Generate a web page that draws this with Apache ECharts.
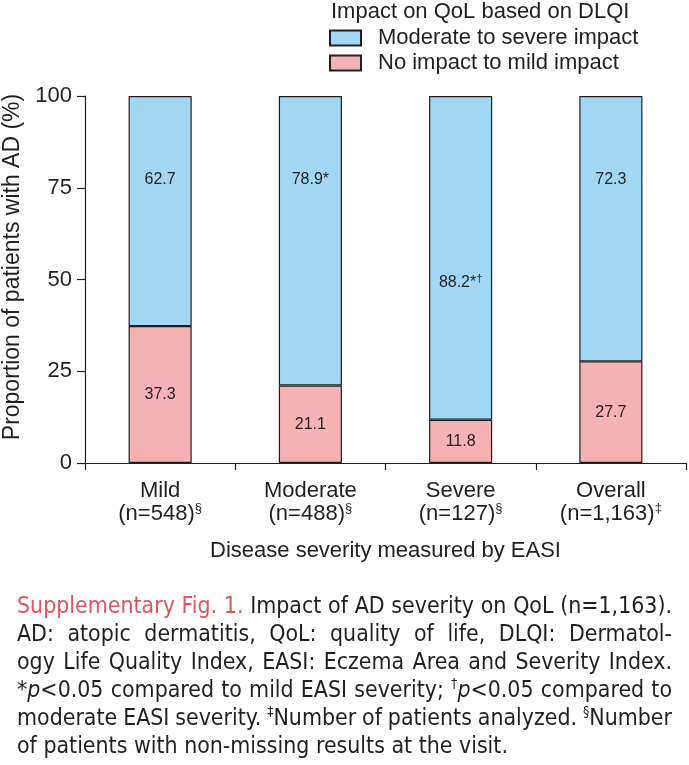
<!DOCTYPE html>
<html><head><meta charset="utf-8">
<script src="https://cdn.jsdelivr.net/npm/echarts@6/dist/echarts.min.js"></script>
<style>html,body{margin:0;padding:0;background:#fff}#c{width:689px;height:765px}</style>
</head><body><div id="c"></div>
<script>
// ---- data ----
const categories = ['Mild', 'Moderate', 'Severe', 'Overall'];
const sampleSizes = ['(n=548)', '(n=488)', '(n=127)', '(n=1,163)'];
const sampleMarks = ['§', '§', '§', '‡'];
const noToMildImpact = [37.3, 21.1, 11.8, 27.7];
const moderateToSevereImpact = [62.7, 78.9, 88.2, 72.3];
const starMarks = ['', '*', '*', ''];
const daggerMarks = ['', '', '†', ''];
const yTicks = [0, 25, 50, 75, 100];
const seriesNames = ['Moderate to severe impact', 'No impact to mild impact'];
const legendTitle = 'Impact on QoL based on DLQI';
const yAxisTitle = 'Proportion of patients with AD (%)';
const xAxisTitle = 'Disease severity measured by EASI';
const captionLines = [
  '{r|Supplementary} {r|Fig.} {r|1.} Impact of AD severity on QoL (n=1,163).',
  'AD: atopic dermatitis, QoL: quality of life, DLQI: Dermatol-',
  'ogy Life Quality Index, EASI: Eczema Area and Severity Index.',
  '*{i|p}<0.05 compared to mild EASI severity; {u|†}{i|p}<0.05 compared to',
  'moderate EASI severity. {u|‡}Number of patients analyzed. {u|§}Number',
  'of patients with non-missing results at the visit.'
];

// ---- style ----
const INK = '#231f20';
const BLUE = '#a1d7f4';
const PINK = '#f4b2b4';
const RED = '#e0555f';
const FONT = "'Liberation Sans', Arial, sans-serif";

// blue label vertical shifts (style only)
const blueLabelShift = [-31, -61, 25, -49];

const chart = echarts.init(document.getElementById('c'), null, {renderer: 'canvas'});

// caption font detection
const mctx = document.createElement('canvas').getContext('2d');
function avail(f) {
  const s = 'abcdefghijklmnopqrstuvwxyz ABCDEFGHIJ 0123456789';
  mctx.font = '40px monospace'; const a = mctx.measureText(s).width;
  mctx.font = `40px '${f}', monospace`; const b = mctx.measureText(s).width;
  mctx.font = '40px serif'; const c = mctx.measureText(s).width;
  mctx.font = `40px '${f}', serif`; const d = mctx.measureText(s).width;
  return a !== b || c !== d;
}
const capCands = ['Liberation Sans Narrow', 'DejaVu Sans Condensed', 'Lato', 'Liberation Sans'];
let capFamily = 'Liberation Sans';
for (const f of capCands) { if (avail(f)) { capFamily = f; break; } }
let capSize = 30;

function segs(word) {
  const out = []; const re = /\{(\w+)\|([^}]*)\}|([^{]+)/g; let m;
  while ((m = re.exec(word))) { if (m[3] !== undefined) out.push({t: m[3], s: ''}); else out.push({t: m[2], s: m[1]}); }
  return out;
}
function fontFor(s, size) {
  const fam = `'${capFamily}'`;
  if (s === 'i') return `italic ${size}px ${fam}`;
  if (s === 'u') return `${Math.round(size * 0.6)}px ${fam}`;
  return `${size}px ${fam}`;
}
function wordWidth(w, size) {
  let t = 0; for (const g of segs(w)) { mctx.font = fontFor(g.s, size); t += mctx.measureText(g.t).width; } return t;
}
const X0 = 17, X1 = 672, Y0 = 607, LH = 28;
// fit size so the widest justified line fits with normal spaces
let maxNat = 0;
for (let i = 0; i < captionLines.length - 1; i++) {
  const ws = captionLines[i].split(' ');
  mctx.font = fontFor('', capSize);
  const sp = mctx.measureText(' ').width;
  const nat = ws.reduce((a, w) => a + wordWidth(w, capSize), 0) + sp * 0.9 * (ws.length - 1);
  maxNat = Math.max(maxNat, nat);
}
capSize = Math.min(26, Math.floor(capSize * (X1 - X0) / maxNat * 10) / 10);

const capRich = {
  r: {fill: RED, fontSize: capSize, fontFamily: capFamily, lineHeight: capSize * 1.2},
  i: {fontStyle: 'italic', fontSize: capSize, fontFamily: capFamily, fill: INK, lineHeight: capSize * 1.2},
  u: {fontSize: Math.round(capSize * 0.6), fontFamily: capFamily, fill: INK, verticalAlign: 'top', lineHeight: capSize * 0.75}
};
const captionGraphics = [];
captionLines.forEach((line, li) => {
  const ws = line.split(' ');
  const widths = ws.map(w => wordWidth(w, capSize));
  mctx.font = fontFor('', capSize);
  let gap = mctx.measureText(' ').width;
  if (li < captionLines.length - 1) gap = (X1 - X0 - widths.reduce((a, b) => a + b, 0)) / (ws.length - 1);
  let x = X0;
  ws.forEach((w, wi) => {
    captionGraphics.push({
      type: 'text', x: x, y: Y0 + li * LH,
      style: {text: w, rich: capRich, fill: INK, fontSize: capSize, fontFamily: capFamily, lineHeight: capSize * 1.2,
        align: 'left', verticalAlign: 'middle'}
    });
    x += widths[wi] + gap;
  });
});

const option = {
  animation: false,
  backgroundColor: '#fff',
  textStyle: {fontFamily: FONT, color: INK},
  title: {
    text: legendTitle, left: 331, top: 1, padding: 0,
    textStyle: {fontSize: 22, fontWeight: 'normal', color: INK, fontFamily: FONT}
  },
  legend: {
    orient: 'vertical', left: 329, top: 27, padding: 0, itemWidth: 31, itemHeight: 15, itemGap: 3,
    icon: 'rect',
    data: seriesNames, selectedMode: false,
    textStyle: {fontSize: 22, color: INK, fontFamily: FONT, padding: [0, 0, 0, 12]}
  },
  grid: {left: 85, right: 3, top: 96, bottom: 302, containLabel: false, outerBoundsMode: 'none'},
  xAxis: {
    type: 'category', data: categories,
    axisLine: {show: true, lineStyle: {color: INK, width: 1.2}},
    axisTick: {show: true, length: 7, lineStyle: {color: INK, width: 1.2}},
    axisLabel: {
      margin: 16, interval: 0,
      formatter: (v, i) => `{a|${v}}\n{a|${sampleSizes[i]}}{s|${sampleMarks[i]}}`,
      rich: {
        a: {fontSize: 22, lineHeight: 23, color: INK, fontFamily: FONT},
        s: {fontSize: 13, lineHeight: 14, verticalAlign: 'top', color: INK, fontFamily: FONT}
      }
    },
    name: xAxisTitle, nameLocation: 'middle', nameGap: 77,
    nameTextStyle: {fontSize: 22, color: INK, fontFamily: FONT}
  },
  yAxis: {
    type: 'value', min: yTicks[0], max: yTicks[yTicks.length - 1], interval: yTicks[1] - yTicks[0],
    axisLine: {show: true, lineStyle: {color: INK, width: 1.2}},
    axisTick: {show: true, length: 8, lineStyle: {color: INK, width: 1.2}},
    axisLabel: {fontSize: 22, color: INK, margin: 13, fontFamily: FONT},
    splitLine: {show: false}
  },
  series: [
    {
      name: seriesNames[1], type: 'bar', stack: 'all', barWidth: '42%',
      data: noToMildImpact,
      itemStyle: {color: PINK, borderColor: INK, borderWidth: 1.2},
      label: {show: true, position: 'inside', fontSize: 16, color: INK, fontFamily: FONT}
    },
    {
      name: seriesNames[0], type: 'bar', stack: 'all', barWidth: '42%',
      data: moderateToSevereImpact.map((v, i) => ({value: v, label: {offset: [0, blueLabelShift[i]]}})),
      itemStyle: {color: BLUE, borderColor: INK, borderWidth: 1.2},
      label: {
        show: true, position: 'inside', color: INK,
        formatter: p => `{v|${p.value}${starMarks[p.dataIndex]}}{d|${daggerMarks[p.dataIndex]}}`,
        rich: {
          v: {fontSize: 16, lineHeight: 18, color: INK, fontFamily: FONT},
          d: {fontSize: 11, lineHeight: 11, verticalAlign: 'top', color: INK, fontFamily: FONT}
        }
      }
    }
  ],
  graphic: [
    {
      type: 'text', x: 13, y: 267, rotation: Math.PI / 2,
      style: {text: yAxisTitle, fontSize: 23, fontFamily: FONT, fill: INK, align: 'center', verticalAlign: 'middle'}
    }
  ].concat(captionGraphics)
};
chart.setOption(option);
</script>
</body></html>
